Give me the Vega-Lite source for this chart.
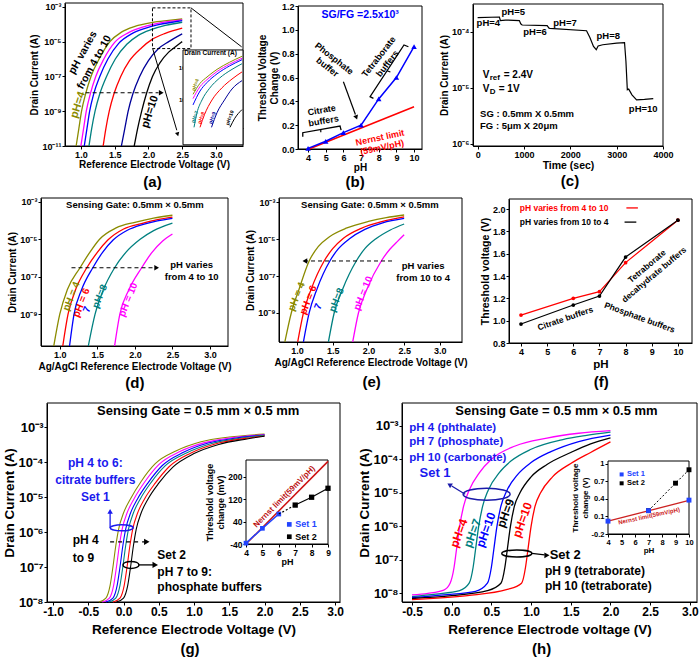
{
"$schema": "https://vega.github.io/schema/vega-lite/v6.json",
"width": 700, "height": 658, "autosize": {"type": "none"}, "padding": 0, "background": "white",
"config": {
  "view": {"stroke": null},
  "font": "Liberation Sans",
  "axis": {"grid": false, "zindex": 1, "domainColor": "#000", "tickColor": "#000", "labelColor": "#000", "titleColor": "#000", "labelFont": "Liberation Sans", "titleFont": "Liberation Sans", "labelFontWeight": "bold", "titleFontWeight": "bold", "labelFontSize": 9, "titleFontSize": 10, "tickSize": 3, "labelPadding": 1, "titlePadding": 2, "labelFlush": false, "labelOverlap": false},
  "text": {"font": "Liberation Sans", "fontWeight": "bold", "color": "#000"},
  "line": {"strokeWidth": 1.3},
  "rule": {"color": "#000", "strokeWidth": 1}
},
"datasets": {
  "a": [
    {"s":"4","x":0.93,"y":1e-11},{"s":"4","x":0.97,"y":1e-10},{"s":"4","x":1.01,"y":1e-9},{"s":"4","x":1.07,"y":1e-8},{"s":"4","x":1.15,"y":1e-7},{"s":"4","x":1.27,"y":1e-6},{"s":"4","x":1.43,"y":1e-5},{"s":"4","x":1.6,"y":3.5e-5},{"s":"4","x":1.8,"y":7.5e-5},{"s":"4","x":2.05,"y":1.25e-4},{"s":"4","x":2.3,"y":1.65e-4},{"s":"4","x":2.5,"y":2e-4},
    {"s":"5","x":1.0,"y":1e-11},{"s":"5","x":1.04,"y":1e-10},{"s":"5","x":1.08,"y":1e-9},{"s":"5","x":1.14,"y":1e-8},{"s":"5","x":1.22,"y":1e-7},{"s":"5","x":1.34,"y":1e-6},{"s":"5","x":1.5,"y":9e-6},{"s":"5","x":1.7,"y":3.2e-5},{"s":"5","x":1.9,"y":6.5e-5},{"s":"5","x":2.1,"y":1.05e-4},{"s":"5","x":2.3,"y":1.45e-4},{"s":"5","x":2.5,"y":1.8e-4},
    {"s":"6","x":1.05,"y":1e-11},{"s":"6","x":1.09,"y":1e-10},{"s":"6","x":1.13,"y":1e-9},{"s":"6","x":1.19,"y":1e-8},{"s":"6","x":1.28,"y":1e-7},{"s":"6","x":1.4,"y":1e-6},{"s":"6","x":1.56,"y":8e-6},{"s":"6","x":1.75,"y":2.8e-5},{"s":"6","x":1.95,"y":5.8e-5},{"s":"6","x":2.15,"y":9.5e-5},{"s":"6","x":2.35,"y":1.3e-4},{"s":"6","x":2.5,"y":1.6e-4},
    {"s":"7","x":1.12,"y":1e-11},{"s":"7","x":1.16,"y":1e-10},{"s":"7","x":1.21,"y":1e-9},{"s":"7","x":1.28,"y":1e-8},{"s":"7","x":1.38,"y":1e-7},{"s":"7","x":1.51,"y":1e-6},{"s":"7","x":1.68,"y":7e-6},{"s":"7","x":1.85,"y":2.3e-5},{"s":"7","x":2.05,"y":5e-5},{"s":"7","x":2.25,"y":8.5e-5},{"s":"7","x":2.5,"y":1.3e-4},
    {"s":"8","x":1.33,"y":1e-11},{"s":"8","x":1.37,"y":1e-10},{"s":"8","x":1.42,"y":1e-9},{"s":"8","x":1.49,"y":1e-8},{"s":"8","x":1.59,"y":1e-7},{"s":"8","x":1.72,"y":8e-7},{"s":"8","x":1.9,"y":4.5e-6},{"s":"8","x":2.05,"y":1.3e-5},{"s":"8","x":2.25,"y":3e-5},{"s":"8","x":2.5,"y":6e-5},
    {"s":"9","x":1.6,"y":1e-11},{"s":"9","x":1.65,"y":1e-10},{"s":"9","x":1.7,"y":1e-9},{"s":"9","x":1.77,"y":1e-8},{"s":"9","x":1.87,"y":1e-7},{"s":"9","x":2.0,"y":8e-7},{"s":"9","x":2.15,"y":4e-6},{"s":"9","x":2.3,"y":1e-5},{"s":"9","x":2.5,"y":2.8e-5},
    {"s":"10","x":1.79,"y":1e-11},{"s":"10","x":1.84,"y":1e-10},{"s":"10","x":1.9,"y":1e-9},{"s":"10","x":1.97,"y":1e-8},{"s":"10","x":2.06,"y":1e-7},{"s":"10","x":2.17,"y":6e-7},{"s":"10","x":2.3,"y":2.5e-6},{"s":"10","x":2.4,"y":5e-6},{"s":"10","x":2.5,"y":1e-5}
  ],
  "ai": [
    {"s":"4","x":1.72,"y":1.5e-5},{"s":"4","x":1.86,"y":3.3e-5},{"s":"4","x":2.0,"y":5.2e-5},{"s":"4","x":2.2,"y":9e-5},{"s":"4","x":2.45,"y":1.5e-4},{"s":"4","x":2.7,"y":2.3e-4},
    {"s":"5","x":1.72,"y":1.1e-5},{"s":"5","x":1.86,"y":2.6e-5},{"s":"5","x":2.0,"y":4.3e-5},{"s":"5","x":2.2,"y":7.7e-5},{"s":"5","x":2.45,"y":1.3e-4},{"s":"5","x":2.7,"y":2.0e-4},
    {"s":"6","x":1.72,"y":7e-6},{"s":"6","x":1.86,"y":1.9e-5},{"s":"6","x":2.0,"y":3.5e-5},{"s":"6","x":2.2,"y":6.5e-5},{"s":"6","x":2.45,"y":1.15e-4},{"s":"6","x":2.7,"y":1.8e-4},
    {"s":"7","x":1.74,"y":1.4e-6},{"s":"7","x":1.8,"y":4e-6},{"s":"7","x":1.9,"y":1e-5},{"s":"7","x":2.05,"y":2.3e-5},{"s":"7","x":2.25,"y":4.8e-5},{"s":"7","x":2.5,"y":9e-5},{"s":"7","x":2.7,"y":1.35e-4},
    {"s":"8","x":1.86,"y":1.4e-6},{"s":"8","x":1.95,"y":3.5e-6},{"s":"8","x":2.1,"y":1e-5},{"s":"8","x":2.3,"y":2.4e-5},{"s":"8","x":2.5,"y":4.5e-5},{"s":"8","x":2.7,"y":7.5e-5},
    {"s":"9","x":2.09,"y":1.4e-6},{"s":"9","x":2.2,"y":4e-6},{"s":"9","x":2.35,"y":1e-5},{"s":"9","x":2.5,"y":2.2e-5},{"s":"9","x":2.7,"y":4e-5},
    {"s":"10","x":2.46,"y":1.4e-6},{"s":"10","x":2.55,"y":2.6e-6},{"s":"10","x":2.7,"y":5e-6}
  ],
  "b": [{"x":4,"y":0.005},{"x":5,"y":0.065},{"x":6,"y":0.137},{"x":7,"y":0.2},{"x":8,"y":0.42},{"x":9,"y":0.6},{"x":10,"y":0.86}],
  "c": [{"x":0,"y":1.8e-4},{"x":470,"y":1.85e-4},{"x":490,"y":1.6e-4},{"x":600,"y":1.63e-4},{"x":900,"y":1.6e-4},{"x":930,"y":1.4e-4},{"x":960,"y":1.33e-4},{"x":1500,"y":1.3e-4},{"x":1540,"y":1.17e-4},{"x":1560,"y":1.16e-4},{"x":2350,"y":1.05e-4},{"x":2420,"y":8e-5},{"x":2500,"y":5.5e-5},{"x":2560,"y":4.8e-5},{"x":2600,"y":5.6e-5},{"x":2700,"y":5.9e-5},{"x":3000,"y":6.3e-5},{"x":3170,"y":6.45e-5},{"x":3200,"y":3e-5},{"x":3230,"y":9.2e-6},{"x":3260,"y":9.5e-6},{"x":3330,"y":7.5e-6},{"x":3430,"y":6.1e-6},{"x":3600,"y":6.2e-6},{"x":3790,"y":6.4e-6}],
  "d": [
    {"s":"4","x":0.92,"y":2e-11},{"s":"4","x":1.0,"y":1e-9},{"s":"4","x":1.1,"y":2e-8},{"s":"4","x":1.27,"y":3e-7},{"s":"4","x":1.4,"y":2e-6},{"s":"4","x":1.53,"y":1e-5},{"s":"4","x":1.75,"y":4e-5},{"s":"4","x":2.0,"y":8e-5},{"s":"4","x":2.25,"y":1.35e-4},{"s":"4","x":2.5,"y":1.9e-4},
    {"s":"6","x":1.04,"y":2e-11},{"s":"6","x":1.11,"y":1e-9},{"s":"6","x":1.21,"y":2e-8},{"s":"6","x":1.36,"y":3e-7},{"s":"6","x":1.5,"y":2e-6},{"s":"6","x":1.64,"y":9e-6},{"s":"6","x":1.85,"y":3.5e-5},{"s":"6","x":2.1,"y":7e-5},{"s":"6","x":2.3,"y":1.1e-4},{"s":"6","x":2.5,"y":1.5e-4},
    {"s":"7","x":1.13,"y":2e-11},{"s":"7","x":1.19,"y":1e-9},{"s":"7","x":1.29,"y":2e-8},{"s":"7","x":1.44,"y":3e-7},{"s":"7","x":1.57,"y":2e-6},{"s":"7","x":1.71,"y":9e-6},{"s":"7","x":1.9,"y":3e-5},{"s":"7","x":2.1,"y":6e-5},{"s":"7","x":2.3,"y":9.5e-5},{"s":"7","x":2.5,"y":1.3e-4},
    {"s":"8","x":1.38,"y":2e-11},{"s":"8","x":1.47,"y":1e-9},{"s":"8","x":1.58,"y":2e-8},{"s":"8","x":1.73,"y":3e-7},{"s":"8","x":1.88,"y":2e-6},{"s":"8","x":2.07,"y":1e-5},{"s":"8","x":2.25,"y":2.9e-5},{"s":"8","x":2.5,"y":7.3e-5},
    {"s":"10","x":1.73,"y":2e-11},{"s":"10","x":1.8,"y":1e-9},{"s":"10","x":1.92,"y":2e-8},{"s":"10","x":2.09,"y":3e-7},{"s":"10","x":2.22,"y":1.8e-6},{"s":"10","x":2.37,"y":8e-6},{"s":"10","x":2.5,"y":1.9e-5}
  ],
  "e": [
    {"s":"4","x":0.83,"y":2.7e-11},{"s":"4","x":0.92,"y":1e-9},{"s":"4","x":1.03,"y":2e-8},{"s":"4","x":1.17,"y":6.5e-7},{"s":"4","x":1.3,"y":4e-6},{"s":"4","x":1.45,"y":1.3e-5},{"s":"4","x":1.7,"y":4e-5},{"s":"4","x":2.0,"y":9e-5},{"s":"4","x":2.25,"y":1.45e-4},{"s":"4","x":2.5,"y":2e-4},
    {"s":"6","x":1.01,"y":2.7e-11},{"s":"6","x":1.09,"y":1e-9},{"s":"6","x":1.2,"y":2e-8},{"s":"6","x":1.38,"y":6.5e-7},{"s":"6","x":1.5,"y":3e-6},{"s":"6","x":1.65,"y":1.1e-5},{"s":"6","x":1.9,"y":3.8e-5},{"s":"6","x":2.2,"y":9e-5},{"s":"6","x":2.5,"y":1.6e-4},
    {"s":"7","x":1.09,"y":2.7e-11},{"s":"7","x":1.17,"y":1e-9},{"s":"7","x":1.28,"y":2e-8},{"s":"7","x":1.46,"y":6.5e-7},{"s":"7","x":1.58,"y":3e-6},{"s":"7","x":1.73,"y":1e-5},{"s":"7","x":1.95,"y":3.3e-5},{"s":"7","x":2.2,"y":7.5e-5},{"s":"7","x":2.5,"y":1.3e-4},
    {"s":"8","x":1.44,"y":2.7e-11},{"s":"8","x":1.52,"y":1e-9},{"s":"8","x":1.64,"y":2e-8},{"s":"8","x":1.83,"y":6.5e-7},{"s":"8","x":1.95,"y":3e-6},{"s":"8","x":2.1,"y":1e-5},{"s":"8","x":2.3,"y":3e-5},{"s":"8","x":2.5,"y":6.5e-5},
    {"s":"10","x":1.78,"y":2.7e-11},{"s":"10","x":1.86,"y":1e-9},{"s":"10","x":1.98,"y":2e-8},{"s":"10","x":2.18,"y":6.5e-7},{"s":"10","x":2.3,"y":2.8e-6},{"s":"10","x":2.4,"y":7e-6},{"s":"10","x":2.5,"y":1.7e-5}
  ],
  "f": [
    {"s":"up","x":4,"y":1.05},{"s":"up","x":6,"y":1.2},{"s":"up","x":7,"y":1.26},{"s":"up","x":8,"y":1.52},{"s":"up","x":10,"y":1.9},
    {"s":"down","x":4,"y":0.97},{"s":"down","x":6,"y":1.14},{"s":"down","x":7,"y":1.22},{"s":"down","x":8,"y":1.57},{"s":"down","x":10,"y":1.9}
  ],
  "g": [
    {"s":"4","x":-0.35,"y":1e-8},{"s":"4","x":-0.25,"y":1.3e-8},{"s":"4","x":-0.19,"y":3e-8},{"s":"4","x":-0.15,"y":1e-7},{"s":"4","x":-0.11,"y":4e-7},{"s":"4","x":-0.07,"y":1.2e-6},{"s":"4","x":0.0,"y":3.5e-6},{"s":"4","x":0.1,"y":9e-6},{"s":"4","x":0.25,"y":2.8e-5},{"s":"4","x":0.45,"y":9e-5},{"s":"4","x":0.75,"y":2.1e-4},{"s":"4","x":1.1,"y":3.8e-4},{"s":"4","x":1.5,"y":5.2e-4},{"s":"4","x":2.0,"y":6.3e-4},
    {"s":"5","x":-0.3,"y":1e-8},{"s":"5","x":-0.2,"y":1.3e-8},{"s":"5","x":-0.14,"y":3e-8},{"s":"5","x":-0.1,"y":1e-7},{"s":"5","x":-0.06,"y":4e-7},{"s":"5","x":-0.02,"y":1.2e-6},{"s":"5","x":0.05,"y":3.5e-6},{"s":"5","x":0.15,"y":9e-6},{"s":"5","x":0.3,"y":2.7e-5},{"s":"5","x":0.5,"y":8.5e-5},{"s":"5","x":0.8,"y":2e-4},{"s":"5","x":1.15,"y":3.6e-4},{"s":"5","x":1.55,"y":5e-4},{"s":"5","x":2.0,"y":6.1e-4},
    {"s":"6","x":-0.25,"y":1e-8},{"s":"6","x":-0.15,"y":1.3e-8},{"s":"6","x":-0.09,"y":3e-8},{"s":"6","x":-0.05,"y":1e-7},{"s":"6","x":-0.01,"y":4e-7},{"s":"6","x":0.03,"y":1.2e-6},{"s":"6","x":0.1,"y":3.5e-6},{"s":"6","x":0.2,"y":9e-6},{"s":"6","x":0.35,"y":2.6e-5},{"s":"6","x":0.55,"y":8e-5},{"s":"6","x":0.85,"y":1.9e-4},{"s":"6","x":1.2,"y":3.5e-4},{"s":"6","x":1.6,"y":4.9e-4},{"s":"6","x":2.0,"y":5.9e-4},
    {"s":"7","x":-0.21,"y":1e-8},{"s":"7","x":-0.11,"y":1.3e-8},{"s":"7","x":-0.05,"y":3e-8},{"s":"7","x":-0.01,"y":1e-7},{"s":"7","x":0.03,"y":4e-7},{"s":"7","x":0.07,"y":1.2e-6},{"s":"7","x":0.14,"y":3.5e-6},{"s":"7","x":0.24,"y":9e-6},{"s":"7","x":0.39,"y":2.6e-5},{"s":"7","x":0.59,"y":7.8e-5},{"s":"7","x":0.9,"y":1.85e-4},{"s":"7","x":1.25,"y":3.4e-4},{"s":"7","x":1.65,"y":4.8e-4},{"s":"7","x":2.0,"y":5.8e-4},
    {"s":"8","x":-0.15,"y":1e-8},{"s":"8","x":-0.05,"y":1.3e-8},{"s":"8","x":0.01,"y":3e-8},{"s":"8","x":0.05,"y":1e-7},{"s":"8","x":0.09,"y":4e-7},{"s":"8","x":0.13,"y":1.2e-6},{"s":"8","x":0.2,"y":3.5e-6},{"s":"8","x":0.3,"y":9e-6},{"s":"8","x":0.45,"y":2.5e-5},{"s":"8","x":0.65,"y":7.5e-5},{"s":"8","x":0.95,"y":1.8e-4},{"s":"8","x":1.3,"y":3.3e-4},{"s":"8","x":1.7,"y":4.7e-4},{"s":"8","x":2.0,"y":5.6e-4},
    {"s":"9","x":-0.1,"y":1e-8},{"s":"9","x":0.0,"y":1.3e-8},{"s":"9","x":0.06,"y":3e-8},{"s":"9","x":0.1,"y":1e-7},{"s":"9","x":0.14,"y":4e-7},{"s":"9","x":0.18,"y":1.2e-6},{"s":"9","x":0.25,"y":3.5e-6},{"s":"9","x":0.35,"y":9e-6},{"s":"9","x":0.5,"y":2.5e-5},{"s":"9","x":0.7,"y":7.2e-5},{"s":"9","x":1.0,"y":1.75e-4},{"s":"9","x":1.35,"y":3.2e-4},{"s":"9","x":1.75,"y":4.6e-4},{"s":"9","x":2.0,"y":5.5e-4}
  ],
  "h": [
    {"s":"4","x":-0.5,"y":9e-9},{"s":"4","x":-0.3,"y":1e-8},{"s":"4","x":-0.1,"y":1.25e-8},{"s":"4","x":-0.02,"y":2e-8},{"s":"4","x":0.03,"y":6e-8},{"s":"4","x":0.06,"y":2e-7},{"s":"4","x":0.1,"y":1e-6},{"s":"4","x":0.15,"y":4e-6},{"s":"4","x":0.22,"y":1.2e-5},{"s":"4","x":0.35,"y":4e-5},{"s":"4","x":0.5,"y":1e-4},{"s":"4","x":0.8,"y":2.5e-4},{"s":"4","x":1.2,"y":4.3e-4},{"s":"4","x":1.6,"y":6e-4},{"s":"4","x":2.0,"y":7.2e-4},
    {"s":"7","x":-0.5,"y":8e-9},{"s":"7","x":-0.2,"y":9.5e-9},{"s":"7","x":0.1,"y":1.2e-8},{"s":"7","x":0.22,"y":2e-8},{"s":"7","x":0.27,"y":6e-8},{"s":"7","x":0.3,"y":2e-7},{"s":"7","x":0.34,"y":1e-6},{"s":"7","x":0.39,"y":4e-6},{"s":"7","x":0.46,"y":1.2e-5},{"s":"7","x":0.6,"y":4e-5},{"s":"7","x":0.75,"y":9e-5},{"s":"7","x":1.0,"y":2e-4},{"s":"7","x":1.4,"y":3.9e-4},{"s":"7","x":1.7,"y":5.2e-4},{"s":"7","x":2.0,"y":6.5e-4},
    {"s":"10","x":-0.5,"y":7.5e-9},{"s":"10","x":-0.1,"y":9e-9},{"s":"10","x":0.3,"y":1.15e-8},{"s":"10","x":0.45,"y":2e-8},{"s":"10","x":0.5,"y":6e-8},{"s":"10","x":0.53,"y":2e-7},{"s":"10","x":0.57,"y":1e-6},{"s":"10","x":0.62,"y":4e-6},{"s":"10","x":0.69,"y":1.1e-5},{"s":"10","x":0.83,"y":3.5e-5},{"s":"10","x":1.0,"y":8e-5},{"s":"10","x":1.25,"y":1.7e-4},{"s":"10","x":1.6,"y":3.4e-4},{"s":"10","x":2.0,"y":5.3e-4},
    {"s":"9","x":-0.5,"y":7e-9},{"s":"9","x":0.0,"y":8.5e-9},{"s":"9","x":0.45,"y":1.2e-8},{"s":"9","x":0.62,"y":2e-8},{"s":"9","x":0.67,"y":6e-8},{"s":"9","x":0.7,"y":2e-7},{"s":"9","x":0.74,"y":1e-6},{"s":"9","x":0.79,"y":4e-6},{"s":"9","x":0.86,"y":1e-5},{"s":"9","x":1.0,"y":3e-5},{"s":"9","x":1.2,"y":7e-5},{"s":"9","x":1.5,"y":1.6e-4},{"s":"9","x":1.75,"y":2.9e-4},{"s":"9","x":2.0,"y":4.4e-4},
    {"s":"10r","x":-0.5,"y":6.5e-9},{"s":"10r","x":0.2,"y":8.5e-9},{"s":"10r","x":0.7,"y":1.3e-8},{"s":"10r","x":0.88,"y":2e-8},{"s":"10r","x":0.93,"y":6e-8},{"s":"10r","x":0.96,"y":2e-7},{"s":"10r","x":1.0,"y":1e-6},{"s":"10r","x":1.05,"y":4e-6},{"s":"10r","x":1.12,"y":1e-5},{"s":"10r","x":1.27,"y":3e-5},{"s":"10r","x":1.5,"y":7.5e-5},{"s":"10r","x":1.75,"y":1.6e-4},{"s":"10r","x":2.0,"y":3.3e-4}
  ]
},
"resolve": {"scale": {"x": "independent", "y": "independent", "color": "independent"}, "axis": {"x": "independent", "y": "independent"}, "legend": {"color": "independent"}},
"layer": [
  {
    "encoding": {
      "x": {"field": "x", "type": "quantitative", "scale": {"domain": [0.765, 3.4], "range": [65, 243]}, "axis": {"orient": "bottom", "offset": -512, "values": [1, 1.5, 2, 2.5, 3], "format": ".1f", "title": "Reference Electrode Voltage (V)", "titlePadding": 0}},
      "y": {"field": "y", "type": "quantitative", "scale": {"type": "log", "domain": [1e-11, 0.00166], "range": [146, 3]}, "axis": {"orient": "left", "offset": -65, "values": [0.001, 0.00001, 1e-7, 1e-9, 1e-11], "labelExpr": "'10' + replace(replace(replace(replace(replace(replace(replace(replace(replace(replace(replace('' + round(log(datum.value) / LN10), '-', '⁻'), regexp('1', 'g'), '¹'), regexp('2', 'g'), '²'), regexp('3', 'g'), '³'), regexp('4', 'g'), '⁴'), regexp('5', 'g'), '⁵'), regexp('6', 'g'), '⁶'), regexp('7', 'g'), '⁷'), regexp('8', 'g'), '⁸'), regexp('9', 'g'), '⁹'), regexp('0', 'g'), '⁰')", "title": "Drain Current (A)"}}
    },
    "layer": [
      {"data": {"values": [{"x": 0.765, "x2": 3.4, "y": 1e-11, "y2": 0.00166}]}, "mark": {"type": "rect", "fillOpacity": 0, "stroke": "#000"}, "encoding": {"x2": {"field": "x2"}, "y2": {"field": "y2"}}},
      {"data": {"name": "a"}, "mark": {"type": "line", "interpolate": "monotone"}, "encoding": {"color": {"field": "s", "type": "nominal", "scale": {"domain": ["4","5","6","7","8","9","10"], "range": ["#8B8B00","#FF00FF","#0000FF","#008080","#FF0000","#000099","#000000"]}, "legend": null}}},
      {"data": {"values": [{"x": 2.06, "x2": 2.63, "y": 3.98e-6, "y2": 8.7e-4}]}, "mark": {"type": "rect", "fillOpacity": 0, "stroke": "#000", "strokeDash": [3, 2]}, "encoding": {"x2": {"field": "x2"}, "y2": {"field": "y2"}}},
      {"data": {"values": [{"x": 2.63, "y": 8.7e-4, "x2": 3.38, "y2": 5e-6}, {"x": 2.063, "y": 3.98e-6, "x2": 2.42, "y2": 8e-11}]}, "mark": {"type": "rule"}, "encoding": {"x2": {"field": "x2"}, "y2": {"field": "y2"}}},
      {"data": {"values": [{"x": 2.43, "y": 5.1e-11}]}, "mark": {"type": "point", "shape": "triangle", "angle": 164, "filled": true, "size": 20, "color": "#000", "opacity": 1}},
      {"data": {"values": [{"x": 1.07, "y": 1.15e-8, "x2": 2.15, "y2": 1.15e-8}]}, "mark": {"type": "rule", "strokeDash": [4, 3]}, "encoding": {"x2": {"field": "x2"}, "y2": {"field": "y2"}}},
      {"data": {"values": [{"x": 2.19, "y": 1.15e-8}]}, "mark": {"type": "point", "shape": "triangle-right", "filled": true, "size": 30, "color": "#000", "opacity": 1}},
      {"data": {"values": [{"x": 1.03, "y": 2.3e-6, "t": "pH varies"}, {"x": 1.2, "y": 6.5e-7, "t": "from 4 to 10"}]}, "mark": {"type": "text", "fontSize": 10.5, "angle": -61}, "encoding": {"text": {"field": "t"}}},
      {"data": {"values": [{"x": 0.96, "y": 2.3e-9, "t": "pH=4", "s": "4"}, {"x": 2.025, "y": 9.3e-10, "t": "pH=10", "s": "10"}]}, "mark": {"type": "text", "fontSize": 11, "angle": -72}, "encoding": {"text": {"field": "t"}, "color": {"field": "s", "type": "nominal", "scale": {"domain": ["4","5","6","7","8","9","10"], "range": ["#8B8B00","#FF00FF","#0000FF","#008080","#FF0000","#000099","#000000"]}, "legend": null}}},
      {"data": {"values": [{"x": 2.06, "y": 8.5e-14, "t": "(a)"}]}, "mark": {"type": "text", "fontSize": 15}, "encoding": {"text": {"field": "t"}}}
    ]
  },
  {
    "encoding": {
      "x": {"field": "x", "type": "quantitative", "scale": {"domain": [1.7, 2.72], "range": [192, 243]}, "axis": {"orient": "bottom", "offset": -530, "values": [1.8, 2.1, 2.4], "format": ".1f", "title": "Ref Voltage (V)", "labelFontSize": 6, "titleFontSize": 6.5, "tickSize": 2, "titlePadding": 0, "labelPadding": 0}},
      "y": {"field": "y", "type": "quantitative", "scale": {"type": "log", "domain": [1.334e-6, 2.19e-4], "range": [128, 57]}, "axis": {"orient": "left", "offset": -192, "values": [0.0001, 0.00001], "labelExpr": "'10' + replace(replace(replace(replace(replace(replace(replace(replace(replace(replace(replace('' + round(log(datum.value) / LN10), '-', '⁻'), regexp('1', 'g'), '¹'), regexp('2', 'g'), '²'), regexp('3', 'g'), '³'), regexp('4', 'g'), '⁴'), regexp('5', 'g'), '⁵'), regexp('6', 'g'), '⁶'), regexp('7', 'g'), '⁷'), regexp('8', 'g'), '⁸'), regexp('9', 'g'), '⁹'), regexp('0', 'g'), '⁰')", "title": null, "labelFontSize": 6, "tickSize": 2, "labelPadding": 0}}
    },
    "layer": [
      {"data": {"values": [{"x": 1.52, "x2": 2.72, "y": 3.98e-7, "y2": 3.63e-4}]}, "mark": {"type": "rect", "fill": "#fff", "stroke": "#000"}, "encoding": {"x2": {"field": "x2"}, "y2": {"field": "y2"}}},
      {"data": {"name": "ai"}, "mark": {"type": "line", "interpolate": "monotone", "strokeWidth": 1}, "encoding": {"color": {"field": "s", "type": "nominal", "scale": {"domain": ["4","5","6","7","8","9","10"], "range": ["#8B8B00","#FF00FF","#0000FF","#008080","#FF0000","#000099","#000000"]}, "legend": null}}},
      {"data": {"values": [{"x": 2.07, "y": 2.95e-4, "t": "Drain Current (A)"}]}, "mark": {"type": "text", "fontSize": 6.5}, "encoding": {"text": {"field": "t"}}},
      {"data": {"values": [{"x": 1.76, "y": 3e-5, "t": "pH=4", "s": "4"}, {"x": 1.75, "y": 3e-6, "t": "pH=7", "s": "7"}, {"x": 1.88, "y": 2.8e-6, "t": "pH=8", "s": "8"}, {"x": 2.1, "y": 2.8e-6, "t": "pH=9", "s": "9"}, {"x": 2.45, "y": 2.8e-6, "t": "pH=10", "s": "10"}]}, "mark": {"type": "text", "fontSize": 5, "angle": -70}, "encoding": {"text": {"field": "t"}, "color": {"field": "s", "type": "nominal", "scale": {"domain": ["4","5","6","7","8","9","10"], "range": ["#8B8B00","#FF00FF","#0000FF","#008080","#FF0000","#000099","#000000"]}, "legend": null}}}
    ]
  },
  {
    "encoding": {
      "x": {"field": "x", "type": "quantitative", "scale": {"domain": [3.43, 10.45], "range": [298, 422]}, "axis": {"orient": "bottom", "offset": -509, "values": [4, 5, 6, 7, 8, 9, 10], "format": "d", "title": "pH", "titlePadding": 0}},
      "y": {"field": "y", "type": "quantitative", "scale": {"domain": [0, 1.2], "range": [149, 6]}, "axis": {"orient": "left", "offset": -298, "values": [0, 0.2, 0.4, 0.6, 0.8, 1, 1.2], "format": ".1f", "title": ["Threshold Voltage", "Change (V)"]}}
    },
    "layer": [
      {"data": {"values": [{"x": 3.43, "x2": 10.45, "y": 0, "y2": 1.2}]}, "mark": {"type": "rect", "fillOpacity": 0, "stroke": "#000"}, "encoding": {"x2": {"field": "x2"}, "y2": {"field": "y2"}}},
      {"data": {"values": [{"x": 4.05, "y": 0}, {"x": 10, "y": 0.355}]}, "mark": {"type": "line", "color": "#FF0000", "strokeWidth": 1.5}},
      {"data": {"name": "b"}, "mark": {"type": "line", "color": "#0000FF", "strokeWidth": 1.5, "point": {"shape": "triangle-up", "filled": true, "size": 30, "color": "#0000FF"}}},
      {"data": {"values": [{"g": "c", "i": 0, "x": 3.7, "y": 0.103}, {"g": "c", "i": 1, "x": 3.7, "y": 0.137}, {"g": "c", "i": 2, "x": 5.81, "y": 0.193}, {"g": "c", "i": 3, "x": 5.87, "y": 0.159}, {"g": "t", "i": 0, "x": 7.7, "y": 0.425}, {"g": "t", "i": 1, "x": 7.51, "y": 0.439}, {"g": "t", "i": 2, "x": 9.43, "y": 0.873}, {"g": "t", "i": 3, "x": 9.68, "y": 0.858}]}, "mark": {"type": "line", "color": "#000", "strokeWidth": 1.3}, "encoding": {"detail": {"field": "g"}, "order": {"field": "i", "type": "quantitative"}}},
      {"data": {"values": [{"x": 4.72, "y": 0.164, "x2": 4.72, "y2": 0.14}, {"x": 8.47, "y": 0.657, "x2": 8.66, "y2": 0.646}, {"x": 6.0, "y": 0.565, "x2": 6.68, "y2": 0.29}]}, "mark": {"type": "rule", "strokeWidth": 1.2}, "encoding": {"x2": {"field": "x2"}, "y2": {"field": "y2"}}},
      {"data": {"values": [{"x": 6.72, "y": 0.271}]}, "mark": {"type": "point", "shape": "triangle", "angle": 160, "filled": true, "size": 25, "color": "#000", "opacity": 1}},
      {"data": {"values": [{"x": 6.95, "y": 1.124, "t": "SG/FG =2.5x10³"}]}, "mark": {"type": "text", "fontSize": 10.5, "color": "#0000FF"}, "encoding": {"text": {"field": "t"}}},
      {"data": {"values": [{"x": 5.48, "y": 0.76, "t": "Phosphate\nbuffer"}]}, "mark": {"type": "text", "fontSize": 9, "angle": 38, "lineBreak": "\n", "lineHeight": 11}, "encoding": {"text": {"field": "t"}}},
      {"data": {"values": [{"x": 8.0, "y": 0.774, "t": "Tetraborate\nbuffers"}]}, "mark": {"type": "text", "fontSize": 9, "angle": -52, "lineBreak": "\n", "lineHeight": 11}, "encoding": {"text": {"field": "t"}}},
      {"data": {"values": [{"x": 4.77, "y": 0.327, "t": "Citrate\nbuffers"}]}, "mark": {"type": "text", "fontSize": 9, "angle": -10, "lineBreak": "\n", "lineHeight": 11}, "encoding": {"text": {"field": "t"}}},
      {"data": {"values": [{"x": 8.07, "y": 0.096, "t": "Nernst limit\n(59mV/pH)"}]}, "mark": {"type": "text", "fontSize": 9, "angle": -12, "lineBreak": "\n", "lineHeight": 10, "color": "#FF0000"}, "encoding": {"text": {"field": "t"}}},
      {"data": {"values": [{"x": 6.66, "y": -0.274, "t": "(b)"}]}, "mark": {"type": "text", "fontSize": 15}, "encoding": {"text": {"field": "t"}}}
    ]
  },
  {
    "encoding": {
      "x": {"field": "x", "type": "quantitative", "scale": {"domain": [-100, 4000], "range": [473, 663]}, "axis": {"orient": "bottom", "offset": -512, "values": [0, 1000, 2000, 3000, 4000], "format": "d", "title": "Time (sec)", "titleFontSize": 10.5, "titlePadding": 1}},
      "y": {"field": "y", "type": "quantitative", "scale": {"type": "log", "domain": [9.12e-7, 3.16e-4], "range": [146, 4]}, "axis": {"orient": "left", "offset": -473, "values": [0.0001, 0.00001, 0.000001], "labelExpr": "'10' + replace(replace(replace(replace(replace(replace(replace(replace(replace(replace(replace('' + round(log(datum.value) / LN10), '-', '⁻'), regexp('1', 'g'), '¹'), regexp('2', 'g'), '²'), regexp('3', 'g'), '³'), regexp('4', 'g'), '⁴'), regexp('5', 'g'), '⁵'), regexp('6', 'g'), '⁶'), regexp('7', 'g'), '⁷'), regexp('8', 'g'), '⁸'), regexp('9', 'g'), '⁹'), regexp('0', 'g'), '⁰')", "title": "Drain Current (A)"}}
    },
    "layer": [
      {"data": {"values": [{"x": -100, "x2": 4000, "y": 9.12e-7, "y2": 3.16e-4}]}, "mark": {"type": "rect", "fillOpacity": 0, "stroke": "#000"}, "encoding": {"x2": {"field": "x2"}, "y2": {"field": "y2"}}},
      {"data": {"name": "c"}, "mark": {"type": "line", "color": "#000", "strokeWidth": 1.2}},
      {"data": {"values": [{"x": 231, "y": 1.43e-4, "t": "pH=4"}, {"x": 770, "y": 2.3e-4, "t": "pH=5"}, {"x": 1238, "y": 9.9e-5, "t": "pH=6"}, {"x": 1885, "y": 1.47e-4, "t": "pH=7"}, {"x": 2819, "y": 8.6e-5, "t": "pH=8"}, {"x": 3574, "y": 4.2e-6, "t": "pH=10"}]}, "mark": {"type": "text", "fontSize": 9.5}, "encoding": {"text": {"field": "t"}}},
      {"data": {"values": [{"x": 110, "y": 1.7e-5, "t": "V"}, {"x": 110, "y": 9.5e-6, "t": "V"}]}, "mark": {"type": "text", "fontSize": 10, "align": "left"}, "encoding": {"text": {"field": "t"}}},
      {"data": {"values": [{"x": 110, "y": 1.7e-5, "t": "ref"}, {"x": 110, "y": 9.5e-6, "t": "D"}]}, "mark": {"type": "text", "fontSize": 8, "align": "left", "dx": 7, "dy": 3}, "encoding": {"text": {"field": "t"}}},
      {"data": {"values": [{"x": 110, "y": 1.7e-5, "t": "= 2.4V"}]}, "mark": {"type": "text", "fontSize": 10, "align": "left", "dx": 21}, "encoding": {"text": {"field": "t"}}},
      {"data": {"values": [{"x": 110, "y": 9.5e-6, "t": "= 1V"}]}, "mark": {"type": "text", "fontSize": 10, "align": "left", "dx": 16}, "encoding": {"text": {"field": "t"}}},
      {"data": {"values": [{"x": 52, "y": 3.43e-6, "t": "SG : 0.5mm X 0.5mm"}, {"x": 52, "y": 2.1e-6, "t": "FG : 5μm X 20μm"}]}, "mark": {"type": "text", "fontSize": 9.5, "align": "left"}, "encoding": {"text": {"field": "t"}}},
      {"data": {"values": [{"x": 1993, "y": 2.12e-7, "t": "(c)"}]}, "mark": {"type": "text", "fontSize": 15}, "encoding": {"text": {"field": "t"}}}
    ]
  },
  {
    "encoding": {
      "x": {"field": "x", "type": "quantitative", "scale": {"domain": [0.75, 3.24], "range": [41, 228]}, "axis": {"orient": "bottom", "offset": -312, "values": [1, 1.5, 2, 2.5, 3], "format": ".1f", "title": "Ag/AgCl Reference Electrode Voltage (V)"}},
      "y": {"field": "y", "type": "quantitative", "scale": {"type": "log", "domain": [2e-11, 0.001585], "range": [346, 198]}, "axis": {"orient": "left", "offset": -41, "values": [0.001, 0.00001, 1e-7, 1e-9], "labelExpr": "'10' + replace(replace(replace(replace(replace(replace(replace(replace(replace(replace(replace('' + round(log(datum.value) / LN10), '-', '⁻'), regexp('1', 'g'), '¹'), regexp('2', 'g'), '²'), regexp('3', 'g'), '³'), regexp('4', 'g'), '⁴'), regexp('5', 'g'), '⁵'), regexp('6', 'g'), '⁶'), regexp('7', 'g'), '⁷'), regexp('8', 'g'), '⁸'), regexp('9', 'g'), '⁹'), regexp('0', 'g'), '⁰')", "title": "Drain Current (A)"}}
    },
    "layer": [
      {"data": {"values": [{"x": 0.75, "x2": 3.24, "y": 2e-11, "y2": 0.001585}]}, "mark": {"type": "rect", "fillOpacity": 0, "stroke": "#000"}, "encoding": {"x2": {"field": "x2"}, "y2": {"field": "y2"}}},
      {"data": {"name": "d"}, "mark": {"type": "line", "interpolate": "monotone"}, "encoding": {"color": {"field": "s", "type": "nominal", "scale": {"domain": ["4","6","7","8","10"], "range": ["#8B8B00","#FF0000","#0000FF","#008080","#FF00FF"]}, "legend": null}}},
      {"data": {"values": [{"x": 1.156, "y": 8.9e-9, "t": "pH = 4", "s": "4"}, {"x": 1.289, "y": 4e-9, "t": "pH = 6", "s": "6"}, {"x": 1.364, "y": 1.74e-9, "t": "7", "s": "7"}, {"x": 1.533, "y": 8.9e-9, "t": "pH=8", "s": "8"}, {"x": 1.91, "y": 5.9e-9, "t": "pH = 10", "s": "10"}]}, "mark": {"type": "text", "fontSize": 10, "angle": -68}, "encoding": {"text": {"field": "t"}, "color": {"field": "s", "type": "nominal", "scale": {"domain": ["4","6","7","8","10"], "range": ["#8B8B00","#FF0000","#0000FF","#008080","#FF00FF"]}, "legend": null}}},
      {"data": {"values": [{"x": 2.0, "y": 6.8e-4, "t": "Sensing Gate: 0.5mm × 0.5mm"}]}, "mark": {"type": "text", "fontSize": 9.5}, "encoding": {"text": {"field": "t"}}},
      {"data": {"values": [{"x": 2.756, "y": 4.1e-7, "t": "pH varies\nfrom 4 to 10"}]}, "mark": {"type": "text", "fontSize": 9.5, "lineBreak": "\n", "lineHeight": 12}, "encoding": {"text": {"field": "t"}}},
      {"data": {"values": [{"x": 1.156, "y": 3e-7, "x2": 2.26, "y2": 3e-7}]}, "mark": {"type": "rule", "strokeDash": [4, 3]}, "encoding": {"x2": {"field": "x2"}, "y2": {"field": "y2"}}},
      {"data": {"values": [{"x": 2.29, "y": 3e-7}]}, "mark": {"type": "point", "shape": "triangle-right", "filled": true, "size": 30, "color": "#000", "opacity": 1}},
      {"data": {"values": [{"x": 2.0, "y": 2.14e-13, "t": "(d)"}]}, "mark": {"type": "text", "fontSize": 15}, "encoding": {"text": {"field": "t"}}}
    ]
  },
  {
    "encoding": {
      "x": {"field": "x", "type": "quantitative", "scale": {"domain": [0.748, 3.31], "range": [279, 462]}, "axis": {"orient": "bottom", "offset": -316, "values": [1, 1.5, 2, 2.5, 3], "format": ".1f", "title": "Ag/AgCl Reference Electrode Voltage (V)"}},
      "y": {"field": "y", "type": "quantitative", "scale": {"type": "log", "domain": [2.69e-11, 0.00166], "range": [342, 198]}, "axis": {"orient": "left", "offset": -279, "values": [0.001, 0.00001, 1e-7, 1e-9], "labelExpr": "'10' + replace(replace(replace(replace(replace(replace(replace(replace(replace(replace(replace('' + round(log(datum.value) / LN10), '-', '⁻'), regexp('1', 'g'), '¹'), regexp('2', 'g'), '²'), regexp('3', 'g'), '³'), regexp('4', 'g'), '⁴'), regexp('5', 'g'), '⁵'), regexp('6', 'g'), '⁶'), regexp('7', 'g'), '⁷'), regexp('8', 'g'), '⁸'), regexp('9', 'g'), '⁹'), regexp('0', 'g'), '⁰')", "title": "Drain Current (A)"}}
    },
    "layer": [
      {"data": {"values": [{"x": 0.748, "x2": 3.31, "y": 2.69e-11, "y2": 0.00166}]}, "mark": {"type": "rect", "fillOpacity": 0, "stroke": "#000"}, "encoding": {"x2": {"field": "x2"}, "y2": {"field": "y2"}}},
      {"data": {"name": "e"}, "mark": {"type": "line", "interpolate": "monotone"}, "encoding": {"color": {"field": "s", "type": "nominal", "scale": {"domain": ["4","6","7","8","10"], "range": ["#8B8B00","#FF0000","#0000FF","#008080","#FF00FF"]}, "legend": null}}},
      {"data": {"values": [{"x": 0.996, "y": 7.6e-9, "t": "pH = 4", "s": "4"}, {"x": 1.158, "y": 5e-9, "t": "pH = 6", "s": "6"}, {"x": 1.298, "y": 2.2e-9, "t": "7", "s": "7"}, {"x": 1.555, "y": 5e-9, "t": "pH=8", "s": "8"}, {"x": 1.927, "y": 1.15e-8, "t": "pH = 10", "s": "10"}]}, "mark": {"type": "text", "fontSize": 10, "angle": -68}, "encoding": {"text": {"field": "t"}, "color": {"field": "s", "type": "nominal", "scale": {"domain": ["4","6","7","8","10"], "range": ["#8B8B00","#FF0000","#0000FF","#008080","#FF00FF"]}, "legend": null}}},
      {"data": {"values": [{"x": 2.02, "y": 6.9e-4, "t": "Sensing Gate: 0.5mm × 0.5mm"}]}, "mark": {"type": "text", "fontSize": 9.5}, "encoding": {"text": {"field": "t"}}},
      {"data": {"values": [{"x": 2.766, "y": 3.7e-7, "t": "pH varies\nfrom 10 to 4"}]}, "mark": {"type": "text", "fontSize": 9.5, "lineBreak": "\n", "lineHeight": 12}, "encoding": {"text": {"field": "t"}}},
      {"data": {"values": [{"x": 2.33, "y": 6.5e-7, "x2": 1.14, "y2": 6.5e-7}]}, "mark": {"type": "rule", "strokeDash": [4, 3]}, "encoding": {"x2": {"field": "x2"}, "y2": {"field": "y2"}}},
      {"data": {"values": [{"x": 1.11, "y": 6.5e-7}]}, "mark": {"type": "point", "shape": "triangle-left", "filled": true, "size": 30, "color": "#000", "opacity": 1}},
      {"data": {"values": [{"x": 2.045, "y": 1.95e-13, "t": "(e)"}]}, "mark": {"type": "text", "fontSize": 15}, "encoding": {"text": {"field": "t"}}}
    ]
  },
  {
    "encoding": {
      "x": {"field": "x", "type": "quantitative", "scale": {"domain": [3.54, 10.54], "range": [509, 692]}, "axis": {"orient": "bottom", "offset": -315, "values": [4, 5, 6, 7, 8, 9, 10], "format": "d", "title": "pH", "titleFontSize": 11.5}},
      "y": {"field": "y", "type": "quantitative", "scale": {"domain": [0.8, 2.09], "range": [343, 199]}, "axis": {"orient": "left", "offset": -509, "values": [0.8, 1, 1.2, 1.4, 1.6, 1.8, 2], "format": ".1f", "title": "Threshold voltage (V)", "titleFontSize": 10.5}}
    },
    "layer": [
      {"data": {"values": [{"x": 3.54, "x2": 10.54, "y": 0.8, "y2": 2.09}]}, "mark": {"type": "rect", "fillOpacity": 0, "stroke": "#000"}, "encoding": {"x2": {"field": "x2"}, "y2": {"field": "y2"}}},
      {"data": {"name": "f"}, "mark": {"type": "line", "strokeWidth": 1.2, "point": {"filled": true, "size": 14}}, "encoding": {"color": {"field": "s", "type": "nominal", "scale": {"domain": ["up", "down"], "range": ["#FF0000", "#000000"]}, "legend": null}}},
      {"data": {"values": [{"x": 3.95, "y": 2.01, "t": "pH varies from 4 to 10"}]}, "mark": {"type": "text", "fontSize": 8.5, "align": "left", "color": "#FF0000"}, "encoding": {"text": {"field": "t"}}},
      {"data": {"values": [{"x": 3.95, "y": 1.883, "t": "pH varies from 10 to 4"}]}, "mark": {"type": "text", "fontSize": 8.5, "align": "left"}, "encoding": {"text": {"field": "t"}}},
      {"data": {"values": [{"x": 8.03, "y": 2.01, "x2": 8.47, "y2": 2.01}]}, "mark": {"type": "rule", "color": "#FF0000", "strokeWidth": 1.3}, "encoding": {"x2": {"field": "x2"}, "y2": {"field": "y2"}}},
      {"data": {"values": [{"x": 7.96, "y": 1.883, "x2": 8.41, "y2": 1.883}]}, "mark": {"type": "rule", "strokeWidth": 1.3}, "encoding": {"x2": {"field": "x2"}, "y2": {"field": "y2"}}},
      {"data": {"values": [{"x": 8.81, "y": 1.489, "t": "Tetraborate\ndecahydrate buffers"}]}, "mark": {"type": "text", "fontSize": 8.5, "angle": -40, "lineBreak": "\n", "lineHeight": 11}, "encoding": {"text": {"field": "t"}}},
      {"data": {"values": [{"x": 5.69, "y": 1.021, "t": "Citrate buffers"}]}, "mark": {"type": "text", "fontSize": 8.5, "angle": -19}, "encoding": {"text": {"field": "t"}}},
      {"data": {"values": [{"x": 8.54, "y": 1.03, "t": "Phosphate buffers"}]}, "mark": {"type": "text", "fontSize": 8.5, "angle": 20}, "encoding": {"text": {"field": "t"}}},
      {"data": {"values": [{"x": 7.07, "y": 0.454, "t": "(f)"}]}, "mark": {"type": "text", "fontSize": 15}, "encoding": {"text": {"field": "t"}}}
    ]
  },
  {
    "encoding": {
      "x": {"field": "x", "type": "quantitative", "scale": {"domain": [-1.085, 3.07], "range": [47, 340]}, "axis": {"orient": "bottom", "offset": -56, "values": [-1, -0.5, 0, 0.5, 1, 1.5, 2, 2.5, 3], "labelExpr": "replace(format(datum.value, '.1f'), '−', '-')", "title": "Reference Electrode Voltage (V)", "labelFontSize": 12, "titleFontSize": 13.5, "titlePadding": 5}},
      "y": {"field": "y", "type": "quantitative", "scale": {"type": "log", "domain": [1e-8, 0.0049], "range": [602, 403]}, "axis": {"orient": "left", "offset": -47, "values": [0.001, 0.0001, 0.00001, 0.000001, 1e-7, 1e-8], "labelExpr": "'10' + replace(replace(replace(replace(replace(replace(replace(replace(replace(replace(replace('' + round(log(datum.value) / LN10), '-', '⁻'), regexp('1', 'g'), '¹'), regexp('2', 'g'), '²'), regexp('3', 'g'), '³'), regexp('4', 'g'), '⁴'), regexp('5', 'g'), '⁵'), regexp('6', 'g'), '⁶'), regexp('7', 'g'), '⁷'), regexp('8', 'g'), '⁸'), regexp('9', 'g'), '⁹'), regexp('0', 'g'), '⁰')", "title": "Drain Current (A)", "labelFontSize": 13, "titleFontSize": 13.5}}
    },
    "layer": [
      {"data": {"values": [{"x": -1.085, "x2": 3.07, "y": 1e-8, "y2": 0.0049}]}, "mark": {"type": "rect", "fillOpacity": 0, "stroke": "#000"}, "encoding": {"x2": {"field": "x2"}, "y2": {"field": "y2"}}},
      {"data": {"name": "g"}, "mark": {"type": "line", "interpolate": "monotone", "strokeWidth": 1.1}, "encoding": {"color": {"field": "s", "type": "nominal", "scale": {"domain": ["4","5","6","7","8","9"], "range": ["#8B8B00","#FF00FF","#0000FF","#008080","#FF0000","#000000"]}, "legend": null}}},
      {"data": {"values": [{"x": 1.06, "y": 0.00295, "t": "Sensing Gate = 0.5 mm × 0.5 mm"}]}, "mark": {"type": "text", "fontSize": 13}, "encoding": {"text": {"field": "t"}}},
      {"data": {"values": [{"x": -0.4, "y": 9.5e-5, "t": "pH 4 to 6:"}, {"x": -0.4, "y": 3.1e-5, "t": "citrate buffers"}, {"x": -0.4, "y": 1.02e-5, "t": "Set 1"}]}, "mark": {"type": "text", "fontSize": 12, "color": "#1a1aee"}, "encoding": {"text": {"field": "t"}}},
      {"data": {"values": [{"x": -0.72, "y": 5.9e-7, "t": "pH 4"}, {"x": -0.72, "y": 1.78e-7, "t": "to 9"}, {"x": 0.48, "y": 2.19e-7, "t": "Set 2"}, {"x": 0.48, "y": 7.4e-8, "t": "pH 7 to 9:"}, {"x": 0.48, "y": 2.75e-8, "t": "phosphate buffers"}]}, "mark": {"type": "text", "fontSize": 12, "align": "left"}, "encoding": {"text": {"field": "t"}}},
      {"data": {"values": [{"x": -0.026, "y": 1.32e-6}]}, "mark": {"type": "point", "shape": "M-1,0A1,0.26,0,1,1,1,0A1,0.26,0,1,1,-1,0Z", "size": 529, "filled": false, "stroke": "#1a1aee", "strokeWidth": 1.5, "opacity": 1}},
      {"data": {"values": [{"x": 0.106, "y": 1.15e-7}]}, "mark": {"type": "point", "shape": "M-1,0A1,0.44,0,1,1,1,0A1,0.44,0,1,1,-1,0Z", "size": 256, "filled": false, "stroke": "#000", "strokeWidth": 1.5, "opacity": 1}},
      {"data": {"values": [{"x": -0.19, "y": 1.32e-6, "x2": -0.19, "y2": 3.6e-6}]}, "mark": {"type": "rule", "color": "#1a1aee", "strokeWidth": 1.3}, "encoding": {"x2": {"field": "x2"}, "y2": {"field": "y2"}}},
      {"data": {"values": [{"x": -0.19, "y": 3.9e-6}]}, "mark": {"type": "point", "shape": "triangle-up", "filled": true, "size": 30, "color": "#1a1aee", "opacity": 1}},
      {"data": {"values": [{"x": 0.21, "y": 1.15e-7, "x2": 0.43, "y2": 1.15e-7}]}, "mark": {"type": "rule", "strokeWidth": 1.3}, "encoding": {"x2": {"field": "x2"}, "y2": {"field": "y2"}}},
      {"data": {"values": [{"x": -0.19, "y": 5.25e-7, "x2": 0.3, "y2": 5.25e-7}]}, "mark": {"type": "rule", "strokeDash": [4, 4], "strokeWidth": 1.3}, "encoding": {"x2": {"field": "x2"}, "y2": {"field": "y2"}}},
      {"data": {"values": [{"x": 0.45, "y": 1.15e-7}, {"x": 0.33, "y": 5.25e-7}]}, "mark": {"type": "point", "shape": "triangle-right", "filled": true, "size": 40, "color": "#000", "opacity": 1}},
      {"data": {"values": [{"x": 0.943, "y": 4.47e-10, "t": "(g)"}]}, "mark": {"type": "text", "fontSize": 15}, "encoding": {"text": {"field": "t"}}}
    ]
  },
  {
    "encoding": {
      "x": {"field": "x", "type": "quantitative", "scale": {"domain": [4, 9], "range": [246, 328]}, "axis": {"orient": "bottom", "offset": -114, "values": [4, 5, 6, 7, 8, 9], "format": "d", "title": "pH", "labelFontSize": 8.5, "titleFontSize": 9, "titlePadding": 1}},
      "y": {"field": "y", "type": "quantitative", "scale": {"domain": [-40, 260], "range": [544, 460]}, "axis": {"orient": "left", "offset": -246, "values": [-40, 40, 120, 200], "labelExpr": "replace(format(datum.value, 'd'), '−', '-')", "title": ["Threshold voltage", "change (mV)"], "labelFontSize": 8.5, "titleFontSize": 9}}
    },
    "layer": [
      {"data": {"values": [{"x": 4, "x2": 9, "y": -40, "y2": 260}]}, "mark": {"type": "rect", "fill": "#fff", "stroke": "#000"}, "encoding": {"x2": {"field": "x2"}, "y2": {"field": "y2"}}},
      {"data": {"values": [{"x": 4, "y": -40}, {"x": 9, "y": 255}]}, "mark": {"type": "line", "color": "#CC1111", "strokeWidth": 1.5}},
      {"data": {"values": [{"x": 4, "y": -37}, {"x": 5, "y": 16}, {"x": 6, "y": 67}]}, "mark": {"type": "line", "color": "#2244FF", "strokeWidth": 1.5, "point": {"shape": "square", "filled": true, "size": 22, "color": "#2244FF"}}},
      {"data": {"values": [{"x": 6, "y": 67}, {"x": 7, "y": 99}]}, "mark": {"type": "line", "color": "#000", "strokeWidth": 1.2, "strokeDash": [2, 2]}},
      {"data": {"values": [{"x": 7, "y": 99}, {"x": 8, "y": 127}, {"x": 9, "y": 159}]}, "mark": {"type": "line", "color": "#000", "strokeWidth": 1.2, "point": {"shape": "square", "filled": true, "size": 28, "color": "#000"}}},
      {"data": {"values": [{"x": 6.64, "y": 30}]}, "mark": {"type": "point", "shape": "square", "filled": true, "size": 22, "color": "#2244FF", "opacity": 1}},
      {"data": {"values": [{"x": 6.64, "y": -14}]}, "mark": {"type": "point", "shape": "square", "filled": true, "size": 22, "color": "#000", "opacity": 1}},
      {"data": {"values": [{"x": 7.0, "y": 30, "t": "Set 1"}]}, "mark": {"type": "text", "fontSize": 9, "align": "left", "color": "#2244FF"}, "encoding": {"text": {"field": "t"}}},
      {"data": {"values": [{"x": 7.0, "y": -14, "t": "Set 2"}]}, "mark": {"type": "text", "fontSize": 9, "align": "left"}, "encoding": {"text": {"field": "t"}}},
      {"data": {"values": [{"x": 6.35, "y": 128, "t": "Nernst limit(59mV/pH)"}]}, "mark": {"type": "text", "fontSize": 8, "angle": -45, "color": "#BB1111"}, "encoding": {"text": {"field": "t"}}}
    ]
  },
  {
    "encoding": {
      "x": {"field": "x", "type": "quantitative", "scale": {"domain": [-0.626, 3.09], "range": [402, 697]}, "axis": {"orient": "bottom", "offset": -56, "values": [-0.5, 0, 0.5, 1, 1.5, 2, 2.5, 3], "labelExpr": "replace(format(datum.value, '.1f'), '−', '-')", "title": "Reference Electrode voltage (V)", "labelFontSize": 12, "titleFontSize": 13.5, "titlePadding": 5}},
      "y": {"field": "y", "type": "quantitative", "scale": {"type": "log", "domain": [5.5e-9, 0.0048], "range": [602, 403]}, "axis": {"orient": "left", "offset": -402, "values": [0.001, 0.0001, 0.00001, 0.000001, 1e-7, 1e-8], "labelExpr": "'10' + replace(replace(replace(replace(replace(replace(replace(replace(replace(replace(replace('' + round(log(datum.value) / LN10), '-', '⁻'), regexp('1', 'g'), '¹'), regexp('2', 'g'), '²'), regexp('3', 'g'), '³'), regexp('4', 'g'), '⁴'), regexp('5', 'g'), '⁵'), regexp('6', 'g'), '⁶'), regexp('7', 'g'), '⁷'), regexp('8', 'g'), '⁸'), regexp('9', 'g'), '⁹'), regexp('0', 'g'), '⁰')", "title": "Drain Current (A)", "labelFontSize": 13, "titleFontSize": 13.5}}
    },
    "layer": [
      {"data": {"values": [{"x": -0.626, "x2": 3.09, "y": 5.5e-9, "y2": 0.0048}]}, "mark": {"type": "rect", "fillOpacity": 0, "stroke": "#000"}, "encoding": {"x2": {"field": "x2"}, "y2": {"field": "y2"}}},
      {"data": {"name": "h"}, "mark": {"type": "line", "interpolate": "monotone", "strokeWidth": 1.3}, "encoding": {"color": {"field": "s", "type": "nominal", "scale": {"domain": ["4","7","10","9","10r"], "range": ["#FF00FF","#008080","#0000FF","#000000","#FF0000"]}, "legend": null}}},
      {"data": {"values": [{"x": 0.09, "y": 6.2e-7, "t": "pH=4", "s": "10r"}, {"x": 0.26, "y": 6.2e-7, "t": "pH=7", "s": "7"}, {"x": 0.43, "y": 7.8e-7, "t": "pH=10", "s": "10"}, {"x": 0.68, "y": 2.45e-6, "t": "pH=9", "s": "9"}, {"x": 0.89, "y": 1.55e-6, "t": "pH=10", "s": "10r"}]}, "mark": {"type": "text", "fontSize": 12, "angle": -70}, "encoding": {"text": {"field": "t"}, "color": {"field": "s", "type": "nominal", "scale": {"domain": ["4","7","10","9","10r"], "range": ["#FF00FF","#008080","#0000FF","#000000","#FF0000"]}, "legend": null}}},
      {"data": {"values": [{"x": 1.32, "y": 0.0028, "t": "Sensing Gate = 0.5 mm × 0.5 mm"}]}, "mark": {"type": "text", "fontSize": 13}, "encoding": {"text": {"field": "t"}}},
      {"data": {"values": [{"x": -0.534, "y": 8.5e-4, "t": "pH 4 (phthalate)"}, {"x": -0.534, "y": 3.4e-4, "t": "pH 7 (phosphate)"}, {"x": -0.534, "y": 1.12e-4, "t": "pH 10 (carbonate)"}]}, "mark": {"type": "text", "fontSize": 11.5, "align": "left", "color": "#1a1aee"}, "encoding": {"text": {"field": "t"}}},
      {"data": {"values": [{"x": -0.21, "y": 3.8e-5, "t": "Set 1"}]}, "mark": {"type": "text", "fontSize": 13, "color": "#1a1aee"}, "encoding": {"text": {"field": "t"}}},
      {"data": {"values": [{"x": 1.43, "y": 1.38e-7, "t": "Set 2"}]}, "mark": {"type": "text", "fontSize": 13}, "encoding": {"text": {"field": "t"}}},
      {"data": {"values": [{"x": 1.175, "y": 4.7e-8, "t": "pH 9 (tetraborate)"}, {"x": 1.175, "y": 1.6e-8, "t": "pH 10 (tetraborate)"}]}, "mark": {"type": "text", "fontSize": 12, "align": "left"}, "encoding": {"text": {"field": "t"}}},
      {"data": {"values": [{"x": 0.44, "y": 9.1e-6}]}, "mark": {"type": "point", "shape": "M-1,0A1,0.255,0,1,1,1,0A1,0.255,0,1,1,-1,0Z", "size": 2209, "filled": false, "stroke": "#1a1aaa", "strokeWidth": 1.5, "opacity": 1}},
      {"data": {"values": [{"x": 0.82, "y": 1.55e-7}]}, "mark": {"type": "point", "shape": "M-1,0A1,0.23,0,1,1,1,0A1,0.23,0,1,1,-1,0Z", "size": 900, "filled": false, "stroke": "#000", "strokeWidth": 1.5, "opacity": 1}},
      {"data": {"values": [{"x": 0.17, "y": 9.1e-6, "x2": 0.0, "y2": 1.6e-5}]}, "mark": {"type": "rule", "color": "#1a1aaa", "strokeWidth": 1.3}, "encoding": {"x2": {"field": "x2"}, "y2": {"field": "y2"}}},
      {"data": {"values": [{"x": -0.02, "y": 1.7e-5}]}, "mark": {"type": "point", "shape": "triangle", "angle": -59, "filled": true, "size": 30, "color": "#1a1aaa", "opacity": 1}},
      {"data": {"values": [{"x": 1.01, "y": 1.55e-7, "x2": 1.17, "y2": 1.4e-7}]}, "mark": {"type": "rule", "strokeWidth": 1.3}, "encoding": {"x2": {"field": "x2"}, "y2": {"field": "y2"}}},
      {"data": {"values": [{"x": 1.2, "y": 1.36e-7}]}, "mark": {"type": "point", "shape": "triangle-right", "filled": true, "size": 35, "color": "#000", "opacity": 1}},
      {"data": {"values": [{"x": 1.133, "y": 2.14e-10, "t": "(h)"}]}, "mark": {"type": "text", "fontSize": 15}, "encoding": {"text": {"field": "t"}}}
    ]
  },
  {
    "encoding": {
      "x": {"field": "x", "type": "quantitative", "scale": {"domain": [4, 10], "range": [608, 689]}, "axis": {"orient": "bottom", "offset": -124, "values": [4, 5, 6, 7, 8, 9, 10], "format": "d", "title": "pH", "labelFontSize": 7.5, "titleFontSize": 8, "titlePadding": 1}},
      "y": {"field": "y", "type": "quantitative", "scale": {"domain": [-0.2, 1.05], "range": [534, 461]}, "axis": {"orient": "left", "offset": -608, "values": [-0.2, 0.1, 0.4, 0.7, 1], "labelExpr": "datum.value == 1 ? '1' : replace(format(datum.value, '.1f'), '−', '-')", "title": ["Threshold voltage", "change (V)"], "labelFontSize": 7.5, "titleFontSize": 8}}
    },
    "layer": [
      {"data": {"values": [{"x": 4, "x2": 10, "y": -0.2, "y2": 1.05}]}, "mark": {"type": "rect", "fill": "#fff", "stroke": "#000"}, "encoding": {"x2": {"field": "x2"}, "y2": {"field": "y2"}}},
      {"data": {"values": [{"x": 4, "y": 0.02}, {"x": 10, "y": 0.375}]}, "mark": {"type": "line", "color": "#CC2222", "strokeWidth": 1.3}},
      {"data": {"values": [{"x": 7, "y": 0.2}, {"x": 9, "y": 0.67}, {"x": 10, "y": 0.9}]}, "mark": {"type": "line", "color": "#000", "strokeWidth": 1, "strokeDash": [2, 2], "point": {"shape": "square", "filled": true, "size": 24, "color": "#000"}}},
      {"data": {"values": [{"x": 4, "y": 0.02}, {"x": 7, "y": 0.2}, {"x": 10, "y": 0.38}]}, "mark": {"type": "point", "shape": "square", "filled": true, "size": 24, "color": "#2244FF", "opacity": 1}},
      {"data": {"values": [{"x": 5.01, "y": 0.82}]}, "mark": {"type": "point", "shape": "square", "filled": true, "size": 16, "color": "#2244FF", "opacity": 1}},
      {"data": {"values": [{"x": 5.01, "y": 0.668}]}, "mark": {"type": "point", "shape": "square", "filled": true, "size": 16, "color": "#000", "opacity": 1}},
      {"data": {"values": [{"x": 5.4, "y": 0.82, "t": "Set 1"}]}, "mark": {"type": "text", "fontSize": 7.5, "align": "left", "color": "#2244FF"}, "encoding": {"text": {"field": "t"}}},
      {"data": {"values": [{"x": 5.4, "y": 0.668, "t": "Set 2"}]}, "mark": {"type": "text", "fontSize": 7.5, "align": "left"}, "encoding": {"text": {"field": "t"}}},
      {"data": {"values": [{"x": 7.04, "y": 0.108, "t": "Nernst limit(59mV/pH)"}]}, "mark": {"type": "text", "fontSize": 6, "angle": -12, "color": "#CC2222"}, "encoding": {"text": {"field": "t"}}}
    ]
  }
]
}
